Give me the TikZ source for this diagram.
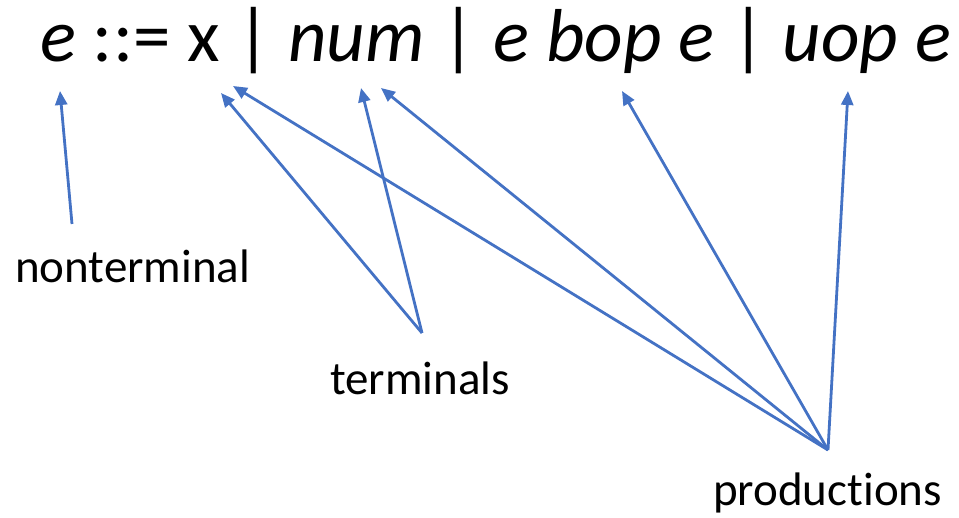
\documentclass[tikz,border=0pt]{standalone}
\usepackage{fontspec}
\setmainfont{Carlito}[Ligatures=NoCommon]
\usetikzlibrary{arrows.meta}
\definecolor{ptrblue}{RGB}{68,114,196}
\tikzset{
  pointer/.style={draw=ptrblue, line width=2.8pt, -{Triangle[length=14pt,width=12pt]}},
  lbl/.style={inner sep=0pt, anchor=base west, font=\fontsize{47}{52}\selectfont}
}
\begin{document}
\begin{tikzpicture}[x=1pt, y=-1pt]
	\useasboundingbox (0,0) rectangle (959,518);
	% the grammar rule
	\node[inner sep=0pt, anchor=base west, font=\fontsize{75}{80}\selectfont] (rule) at (40,62)
		{\itshape e \upshape ::= x | \itshape num \upshape | \itshape e bop e \upshape | \itshape uop e};
	% labels
	\node[lbl] (nonterm) at (15,283) {nonterminal};
	\node[lbl] (term) at (330,395) {terminals};
	\node[lbl] (prod) at (713,505) {productions};
	% arrow ends
	\coordinate (ntail) at (72,224);
	\coordinate (ttail) at (422,333);
	\coordinate (ptail) at (828,450);
	\coordinate (e1) at (60,91);
	\coordinate (x1) at (221,93);
	\coordinate (x2) at (233,86);
	\coordinate (num1) at (361,88);
	\coordinate (num2) at (381,88);
	\coordinate (bop) at (622,91);
	\coordinate (uop) at (848,91);
	% arrows
	\draw[pointer] (ntail) -- (e1);
	\draw[pointer] (ttail) -- (x1);
	\draw[pointer] (ttail) -- (num1);
	\draw[pointer] (ptail) -- (x2);
	\draw[pointer] (ptail) -- (num2);
	\draw[pointer] (ptail) -- (bop);
	\draw[pointer] (ptail) -- (uop);
\end{tikzpicture}
\end{document}
